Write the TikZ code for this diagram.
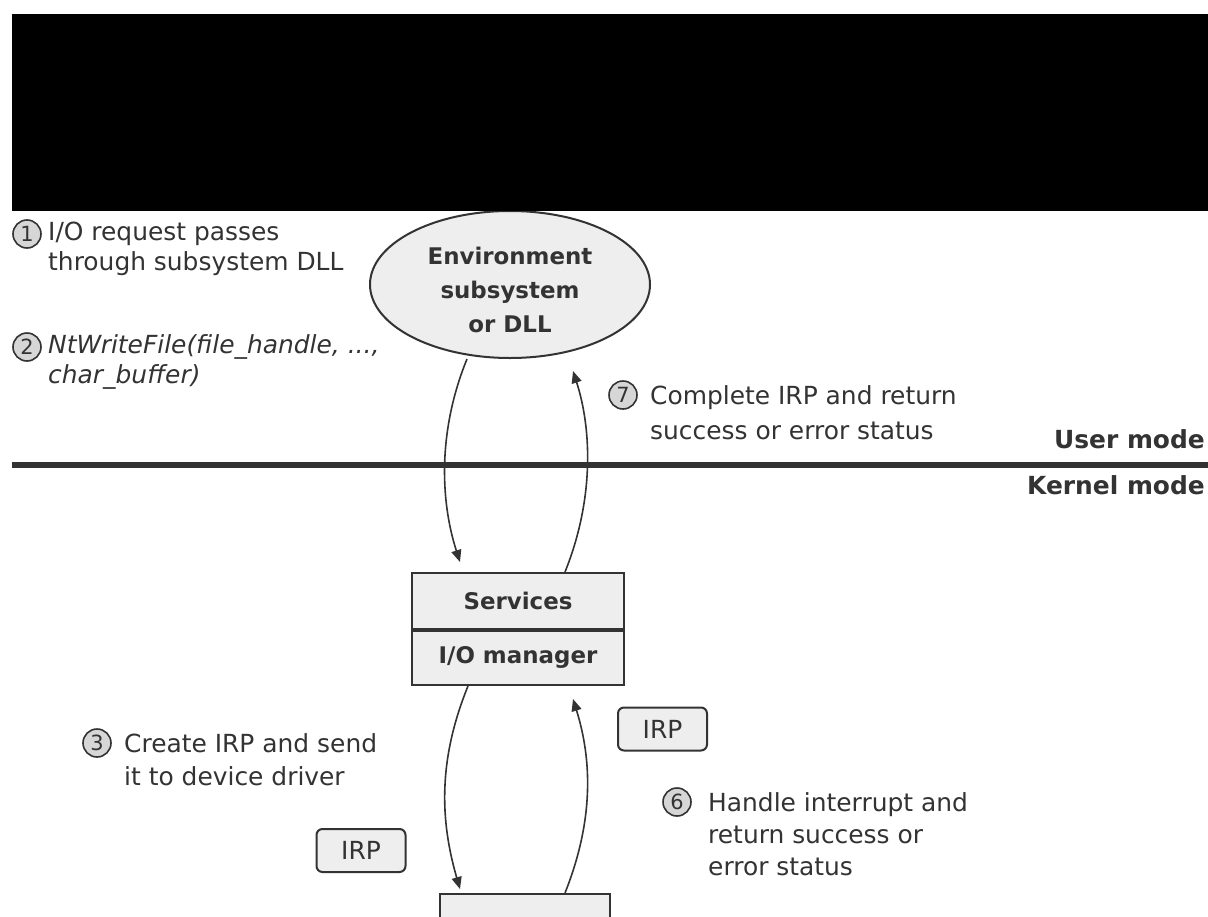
\documentclass[tikz,border=0pt]{standalone}
\usepackage{fontspec}
\setmainfont{DejaVu Sans}
\usetikzlibrary{shapes.geometric,arrows.meta,calc}
\definecolor{ink}{HTML}{333333}
\definecolor{pale}{HTML}{EEEEEE}
\definecolor{disc}{HTML}{D6D6D6}
\begin{document}
\begin{tikzpicture}[x=1bp,y=-1bp,
  lbl/.style={font=\fontsize{25}{30}\selectfont, text=ink, align=left, anchor=west, inner sep=0},
  hdr/.style={font=\fontsize{23}{34}\selectfont\bfseries, text=ink, inner sep=0},
  num/.style={circle, draw=ink, line width=1.6bp, fill=disc, minimum size=28bp, inner sep=0,
              font=\fontsize{21}{21}\selectfont, text=ink},
  arr/.style={draw=ink, line width=1.6bp, -{Triangle[length=12bp,width=10bp]}},
  irp/.style={rounded corners=6bp, draw=ink, line width=2bp, fill=pale, minimum width=89bp,
              minimum height=43bp, inner sep=0, font=\fontsize{25}{30}\selectfont, text=ink},
  layerbox/.style={draw=ink, line width=2bp, fill=pale, minimum width=212bp, minimum height=56bp,
              inner sep=0, font=\fontsize{23}{34}\selectfont\bfseries, text=ink}
]
\useasboundingbox (0,0) rectangle (1208,917);
\fill[white] (0,0) rectangle (1208,917);

% ellipse
\node[ellipse, draw=ink, line width=2bp, fill=pale, minimum width=280bp, minimum height=147bp, inner sep=0] (env) at (510,284.5) {};
\node[hdr, align=center] (envt) at (510,290) {Environment\\subsystem\\or DLL};

% redacted band
\fill[black] (12,14) rectangle (1208,211);

% mode separator
\draw[ink, line width=6bp] (12,465) -- (1208,465);
\node[hdr, anchor=east, font=\fontsize{25}{30}\selectfont\bfseries] (um) at (1205,439) {User mode};
\node[hdr, anchor=east, font=\fontsize{25}{30}\selectfont\bfseries] (km) at (1205,485) {Kernel mode};

% services / I/O manager
\node[layerbox, anchor=north west] (svc) at (411,572) {Services};
\node[layerbox, anchor=north west] (iom) at (411,628) {I/O manager};
\draw[ink, line width=4bp] (svc.south west) -- (svc.south east);

% device box (cut off by the lower edge)
\node[layerbox, minimum width=170bp, minimum height=60bp, anchor=north west] (dev) at (439,893) {};
\node[hdr, anchor=base] (devt) at (524,936) {Device};

% IRP tags
\node[irp] (irpa) at (662.5,729) {IRP};
\node[irp] (irpb) at (361,850.5) {IRP};

% numbered notes
\node[num] (n1) at (27,234) {1};
\node[lbl] (t1) at (48,249) {I/O request passes\\through subsystem DLL};
\node[num] (n2) at (27,347) {2};
\node[lbl, font=\fontsize{25}{30}\selectfont\itshape] (t2) at (48,362) {NtWriteFile(file\_handle, ...,\\char\_buffer)};
\node[num] (n7) at (623,395) {7};
\node[lbl, font=\fontsize{25}{35}\selectfont] (t7) at (650,413) {Complete IRP and return\\success or error status};
\node[num] (n3) at (97,743) {3};
\node[lbl, font=\fontsize{25}{33}\selectfont] (t3) at (124,760) {Create IRP and send\\it to device driver};
\node[num] (n6) at (677,802) {6};
\node[lbl, font=\fontsize{25}{32}\selectfont] (t6) at (708,834) {Handle interrupt and\\return success or\\error status};

% connectors
\draw[arr] ($(env.south)+(-43,0)$) .. controls (438,430) and (440,500) .. ($(svc.north west)+(49,-10)$);
\draw[arr] ($(svc.north west)+(154,0)$) .. controls (594,500) and (592,430) .. ($(env.south)+(63,12)$);
\draw[arr] ($(iom.south west)+(57,0)$) .. controls (438,760) and (440,820) .. ($(dev.north west)+(21,-4)$);
\draw[arr] ($(dev.north west)+(126,0)$) .. controls (594,820) and (592,760) .. ($(iom.south west)+(162,13)$);
\end{tikzpicture}
\end{document}
